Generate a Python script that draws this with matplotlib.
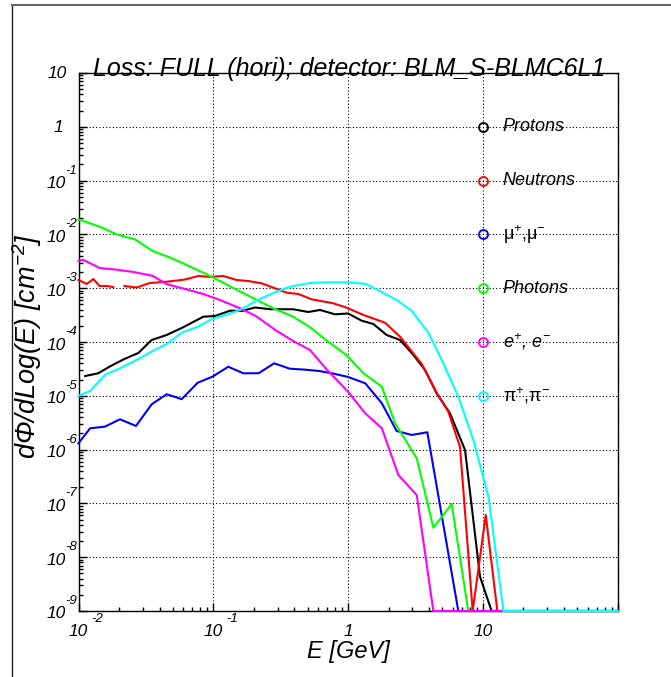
import numpy as np
import matplotlib
matplotlib.use('Agg')
import matplotlib.pyplot as plt
from matplotlib.ticker import LogLocator, NullFormatter
from matplotlib.lines import Line2D

plt.rcParams['font.family'] = ['Liberation Sans', 'DejaVu Sans']
plt.rcParams['mathtext.fontset'] = 'custom'
plt.rcParams['mathtext.rm'] = 'Liberation Sans:italic'
plt.rcParams['mathtext.it'] = 'Liberation Sans:italic'
plt.rcParams['mathtext.sf'] = 'Liberation Sans:italic'
plt.rcParams['mathtext.bf'] = 'Liberation Sans:bold:italic'

# ---------------- data (E in GeV, dPhi/dLog(E) in cm^-2) ----------------
title = 'Loss: FULL (hori); detector: BLM_S-BLMC6L1'
series_names = ['Protons', 'Neutrons', 'μ$^{+}$,μ$^{-}$', 'Photons',
                '$e^{+}$, $e^{-}$', 'π$^{+}$,π$^{-}$']
series_colors = ['#000000', '#ff0000', '#0000ff', '#00ff00', '#ff00ff', '#00ffff']

E_protons = [0.0112, 0.0140, 0.0171, 0.0215, 0.0278, 0.0349, 0.0451, 0.0583, 0.0653, 0.0843,
             0.103, 0.133, 0.163, 0.204, 0.263, 0.392, 0.507, 0.619, 0.799, 1.00,
             1.26, 1.54, 1.93, 2.43, 3.05, 3.72, 4.54, 5.70, 7.37, 9.52, 11.6, 100]
protons = [2.33e-5, 2.62e-5, 3.51e-5, 4.73e-5, 6.25e-5, 1.09e-4, 1.35e-4, 1.82e-4, 2.11e-4, 2.95e-4,
           3.04e-4, 3.82e-4, 3.77e-4, 4.38e-4, 4.07e-4, 4.06e-4, 3.61e-4, 3.94e-4, 3.27e-4, 3.39e-4,
           2.49e-4, 2.16e-4, 1.35e-4, 1.09e-4, 5.73e-5, 3.02e-5, 1.11e-5, 4.73e-6, 9.84e-7, 4.35e-9, 0, 0]

E_neutrons = [0.0100, 0.0115, 0.0129, 0.0143, 0.0162, 0.0181, 0.0200, 0.0219, 0.0270, 0.0339,
              0.0451, 0.0617, 0.0775, 0.0943, 0.118, 0.149, 0.182, 0.229, 0.287, 0.351,
              0.428, 0.537, 0.776, 0.976, 1.30, 1.88, 2.43, 3.52, 4.54, 5.54,
              6.76, 8.40, 10.5, 12.8, 100]
neutrons = [1.42e-3, 1.20e-3, 1.48e-3, 1.10e-3, 1.10e-3, 1.05e-3, np.nan, 1.10e-3, 1.03e-3, 1.25e-3,
            1.32e-3, 1.45e-3, 1.69e-3, 1.62e-3, 1.69e-3, 1.42e-3, 1.36e-3, 1.23e-3, 9.96e-4, 8.25e-4,
            7.80e-4, 6.22e-4, 5.24e-4, 4.34e-4, 3.18e-4, 2.28e-4, 1.25e-4, 3.90e-5, 1.14e-5, 5.06e-6,
            1.13e-6, 0, 6.08e-8, 0, 0]

E_muons = [0.0100, 0.0122, 0.0157, 0.0203, 0.0267, 0.0349, 0.0451, 0.0583, 0.0766, 0.0990,
           0.129, 0.167, 0.217, 0.283, 0.369, 0.479, 0.608, 0.777, 0.998, 1.34,
           1.78, 2.29, 2.96, 3.87, 6.57, 100]
muons = [1.31e-6, 2.49e-6, 2.67e-6, 3.66e-6, 2.75e-6, 6.95e-6, 1.07e-5, 8.65e-6, 1.75e-5, 2.28e-5,
         3.47e-5, 2.62e-5, 2.63e-5, 4.02e-5, 3.19e-5, 3.06e-5, 2.89e-5, 2.59e-5, 2.24e-5, 1.71e-5,
         7.26e-6, 2.22e-6, 1.87e-6, 2.10e-6, 0, 0]

E_photons = [0.0100, 0.0144, 0.0192, 0.0262, 0.0355, 0.0477, 0.0635, 0.0843, 0.112, 0.158,
             0.210, 0.279, 0.392, 0.522, 0.713, 0.970, 1.30, 1.78, 2.23, 3.23,
             4.29, 5.87, 7.79, 100]
photons = [1.91e-2, 1.39e-2, 1.00e-2, 8.11e-3, 4.91e-3, 3.72e-3, 2.70e-3, 1.94e-3, 1.36e-3, 8.69e-4,
           6.04e-4, 4.23e-4, 2.95e-4, 1.88e-4, 1.01e-4, 5.73e-5, 2.62e-5, 1.48e-5, 3.08e-6, 6.90e-7,
           3.53e-8, 9.70e-8, 0, 0]

E_electrons = [0.0100, 0.0108, 0.0144, 0.0192, 0.0262, 0.0354, 0.0451, 0.0606, 0.0832, 0.112,
               0.158, 0.207, 0.292, 0.392, 0.522, 0.694, 1.00, 1.34, 1.78, 2.36,
               3.23, 4.29, 100]
electrons = [3.21e-3, 3.38e-3, 2.37e-3, 2.21e-3, 1.98e-3, 1.70e-3, 1.19e-3, 9.79e-4, 7.87e-4, 6.04e-4,
             4.23e-4, 3.04e-4, 1.64e-4, 1.04e-4, 7.10e-5, 3.08e-5, 1.19e-5, 4.73e-6, 2.49e-6, 3.37e-7,
             1.43e-7, 0, 0]

E_pions = [0.0100, 0.0122, 0.0157, 0.0203, 0.0270, 0.0359, 0.0451, 0.0583, 0.0774, 0.0978,
           0.126, 0.158, 0.213, 0.279, 0.371, 0.522, 0.710, 0.982, 1.36, 2.29,
           2.96, 3.94, 4.95, 6.57, 8.49, 11.0, 14.2, 100]
pions = [1.00e-5, 1.23e-5, 2.44e-5, 3.24e-5, 4.63e-5, 6.89e-5, 9.18e-5, 1.49e-4, 1.94e-4, 2.68e-4,
         3.24e-4, 3.94e-4, 6.04e-4, 8.15e-4, 1.07e-3, 1.25e-3, 1.29e-3, 1.29e-3, 1.20e-3, 6.04e-4,
         3.82e-4, 1.49e-4, 4.63e-5, 9.62e-6, 1.51e-6, 1.33e-7, 0, 0]

x_tick_exponents = [-2, -1, 0, 1]
y_tick_exponents = [-9, -8, -7, -6, -5, -4, -3, -2, -1, 0, 1]

# ---------------- figure ----------------
W, H = 671, 677
fig = plt.figure(figsize=(W / 100, H / 100), dpi=100)
fig.patch.set_facecolor('white')
L, R, T, B = 78.5, 617.7, 73, 611
ax = fig.add_axes([L / W, 1 - B / H, (R - L) / W, (B - T) / H])
ax.set_xscale('log')
ax.set_yscale('log')
XMIN, XMAX, YMIN, YMAX = 1e-2, 1e2, 1e-9, 10
ax.set_xlim(XMIN, XMAX)
ax.set_ylim(YMIN, YMAX)

for axis in (ax.xaxis, ax.yaxis):
    axis.set_major_locator(LogLocator(base=10, numticks=30))
    axis.set_minor_locator(LogLocator(base=10, subs=np.arange(2, 10), numticks=30))
    axis.set_minor_formatter(NullFormatter())
ax.tick_params(which='both', direction='in', top=False, right=False,
               labelbottom=False, labelleft=False, color='black')
ax.tick_params(which='major', length=6, width=1.0)
ax.tick_params(which='minor', length=3, width=1.0)
ax.grid(which='major', color='black', linestyle=(0, (1, 2)), linewidth=0.8)
ax.set_axisbelow(True)
for s in ax.spines.values():
    s.set_linewidth(1.0)
    s.set_color('black')


def prep(v):
    v = np.asarray(v, dtype=float)
    return np.where(np.isnan(v), np.nan, np.maximum(v, YMIN))


all_E = [E_protons, E_neutrons, E_muons, E_photons, E_electrons, E_pions]
all_v = [protons, neutrons, muons, photons, electrons, pions]
for E, v, c in zip(all_E, all_v, series_colors):
    ax.plot(E, prep(v), color=c, lw=1.5, zorder=3, clip_on=False)

# ---------------- tick labels (ROOT style) ----------------
tick_fs, exp_fs = 12.5, 9.5
for k in y_tick_exponents:
    y = 10.0 ** k
    if k == 1:
        ax.annotate('10', xy=(0, y), xycoords=('axes fraction', 'data'), xytext=(-12, -1),
                    textcoords='offset pixels', ha='right', va='center', fontsize=tick_fs, style='italic')
    elif k == 0:
        ax.annotate('1', xy=(0, y), xycoords=('axes fraction', 'data'), xytext=(-15, -1),
                    textcoords='offset pixels', ha='right', va='center', fontsize=tick_fs, style='italic')
    else:
        ax.annotate('10', xy=(0, y), xycoords=('axes fraction', 'data'), xytext=(-13, -3),
                    textcoords='offset pixels', ha='right', va='center', fontsize=tick_fs, style='italic')
        ax.annotate(str(k), xy=(0, y), xycoords=('axes fraction', 'data'), xytext=(-13, 10),
                    textcoords='offset pixels', ha='left', va='center', fontsize=exp_fs, style='italic')

for k in x_tick_exponents:
    x = 10.0 ** k
    if k == 1:
        ax.annotate('10', xy=(x, 0), xycoords=('data', 'axes fraction'), xytext=(0, -21),
                    textcoords='offset pixels', ha='center', va='center', fontsize=tick_fs, style='italic')
    elif k == 0:
        ax.annotate('1', xy=(x, 0), xycoords=('data', 'axes fraction'), xytext=(0, -21),
                    textcoords='offset pixels', ha='center', va='center', fontsize=tick_fs, style='italic')
    else:
        ax.annotate('10', xy=(x, 0), xycoords=('data', 'axes fraction'), xytext=(0, -21),
                    textcoords='offset pixels', ha='center', va='center', fontsize=tick_fs, style='italic')
        ax.annotate(str(k), xy=(x, 0), xycoords=('data', 'axes fraction'), xytext=(13, -8),
                    textcoords='offset pixels', ha='left', va='center', fontsize=exp_fs, style='italic')

# ---------------- legend (ROOT TLegend-like, no frame) ----------------
leg_styles = ['italic', 'italic', 'normal', 'italic', 'italic', 'normal']
for i, (name, c, st) in enumerate(zip(series_names, series_colors, leg_styles)):
    yy = 10.0 ** (-i)
    ax.plot([10.0], [yy], marker='o', ms=6.5, mfc='none', mec=c, mew=1.3, ls='none', zorder=5)
    ax.annotate(name, xy=(10.0, yy), xytext=(20, 0), textcoords='offset pixels',
                ha='left', va='center', fontsize=13, style=st, zorder=5)

# ---------------- titles ----------------
fig.text(349 / W, 1 - 76 / H, title, ha='center', va='baseline', fontsize=18, style='italic')
fig.text(348 / W, 1 - 658 / H, 'E [GeV]', ha='center', va='baseline', fontsize=17, style='italic')
fig.text(27 / W, 1 - 346 / H, 'dΦ/dLog(E) [cm$^{-2}$]', ha='center', va='center',
         rotation=90, fontsize=19.5, style='italic')

# canvas border
fig.add_artist(Line2D([12 / W, 12 / W], [0, 1 - 5 / H], color='#222222', lw=1.0))
fig.add_artist(Line2D([12 / W, 1], [1 - 5 / H, 1 - 5 / H], color='#666666', lw=1.5))

fig.savefig('out.png', dpi=100)
